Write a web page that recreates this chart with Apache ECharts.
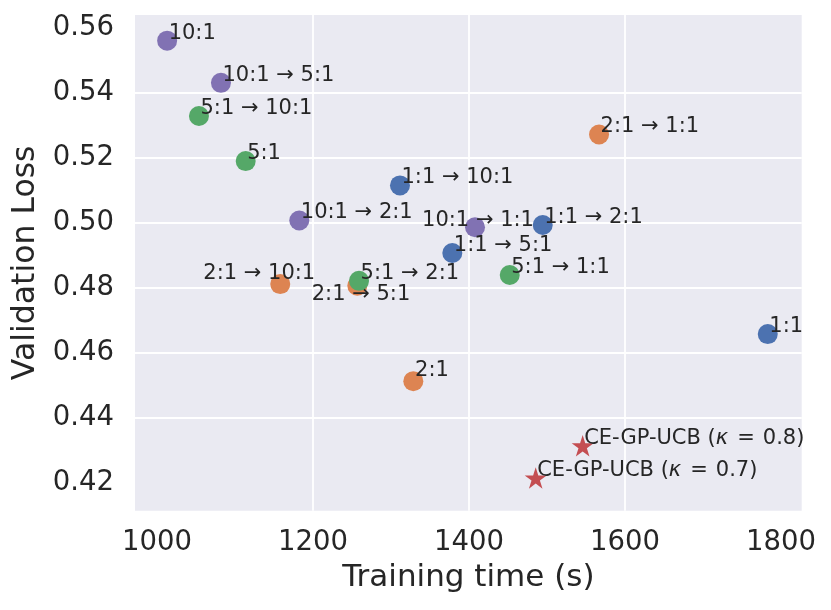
<!DOCTYPE html>
<html>
<head>
<meta charset="utf-8">
<script src="https://cdn.jsdelivr.net/npm/echarts@6/dist/echarts.min.js"></script>
<style>
    body { margin: 0; background: #fff; }
    #scatter_chart { width: 831px; height: 610px; }
</style>
</head>
<body>
<div id="scatter_chart"></div>
<script>
// Schedules starting at 1:1
var names11 = ['1:1', '1:1 → 10:1', '1:1 → 2:1', '1:1 → 5:1'];
var time11 = [1783, 1311.5, 1494.5, 1378.6];
var loss11 = [0.4658, 0.5116, 0.4994, 0.4908];

// Schedules starting at 2:1
var names21 = ['2:1', '2:1 → 1:1', '2:1 → 10:1', '2:1 → 5:1'];
var time21 = [1328.6, 1566.7, 1158, 1256.8];
var loss21 = [0.4513, 0.5273, 0.4812, 0.4807];

// Schedules starting at 5:1
var names51 = ['5:1', '5:1 → 10:1', '5:1 → 1:1', '5:1 → 2:1'];
var time51 = [1113.7, 1053.8, 1452.2, 1259];
var loss51 = [0.5191, 0.5330, 0.4840, 0.4822];

// Schedules starting at 10:1
var names101 = ['10:1', '10:1 → 5:1', '10:1 → 2:1', '10:1 → 1:1'];
var time101 = [1013, 1082, 1182.4, 1407.7];
var loss101 = [0.5562, 0.5432, 0.5008, 0.4987];

// CE-GP-UCB runs
var namesUcb = ['CE-GP-UCB (κ = 0.7)', 'CE-GP-UCB (κ = 0.8)'];
var timeUcb = [1485.5, 1545.7];
var lossUcb = [0.4215, 0.4314];

var xTicks = [1000, 1200, 1400, 1600, 1800];
var yTicks = [0.42, 0.44, 0.46, 0.48, 0.50, 0.52, 0.54, 0.56];

// label placement tweaks (offset of text from the marker centre)
var labelTweaks = {
    '10:1 → 1:1': {align: 'center', offset: [3, -6.5]},
    '2:1 → 10:1': {align: 'center', offset: [-21, -11]},
    '2:1 → 5:1': {align: 'center', offset: [3.7, 8.8]},
    '2:1': {align: 'left', offset: [1.7, -10.5]}
};

var textColor = '#262626';
var font = 'DejaVu Sans';
var labelSize = 21;
var starPath = 'path://M100,0 L122.45,69.1 L195.1,69.1 L136.3,111.8 L158.8,180.9 L100,138.2 L41.2,180.9 L63.7,111.8 L4.9,69.1 L77.55,69.1 Z';

function buildPoints(names, xs, ys) {
    var pts = [];
    for (var i = 0; i < names.length; i++) {
        var tw = labelTweaks[names[i]] || {align: 'left', offset: [1.5, -7.5]};
        pts.push({
            name: names[i],
            value: [xs[i], ys[i]],
            label: {align: tw.align, offset: tw.offset}
        });
    }
    return pts;
}

function makeSeries(names, xs, ys, color, symbol, size) {
    return {
        type: 'scatter',
        symbol: symbol,
        symbolSize: size,
        itemStyle: {color: color, opacity: 1},
        label: {
            show: true,
            position: 'inside',
            verticalAlign: 'middle',
            color: textColor,
            fontFamily: font,
            fontSize: labelSize,
            formatter: function (p) {
                // mathtext-like kappa: italic, wider gaps around "="
                return p.name.replace('κ = ', '{k|κ}{e|=}');
            },
            rich: {
                k: {fontFamily: font, fontSize: labelSize, fontStyle: 'italic', color: textColor},
                e: {fontFamily: font, fontSize: labelSize, color: textColor, padding: [0, 8, 0, 9]}
            }
        },
        emphasis: {disabled: true},
        data: buildPoints(names, xs, ys)
    };
}

var myChart = echarts.init(document.getElementById('scatter_chart'), null, {renderer: 'canvas'});

var option = {
    animation: false,
    backgroundColor: '#ffffff',
    grid: {left: 135, right: 29.3, top: 15, bottom: 99.3, show: true, backgroundColor: '#EAEAF2', borderWidth: 0},
    xAxis: {
        type: 'value',
        min: 971.8,
        max: 1826.5,
        name: 'Training time (s)',
        nameLocation: 'middle',
        nameGap: 52,
        nameTextStyle: {color: textColor, fontFamily: font, fontSize: 31, verticalAlign: 'top'},
        axisLine: {show: false},
        axisTick: {show: false, customValues: xTicks},
        axisLabel: {
            customValues: xTicks, color: textColor, fontFamily: font, fontSize: 27.5, margin: 18,
            formatter: function (v) { return String(v); }
        },
        splitLine: {show: true, showMinLine: false, showMaxLine: false, lineStyle: {color: '#ffffff', width: 1.8}}
    },
    yAxis: {
        type: 'value',
        min: 0.4114,
        max: 0.5641,
        name: 'Validation Loss',
        nameLocation: 'middle',
        nameGap: 92,
        nameRotate: 90,
        nameTextStyle: {color: textColor, fontFamily: font, fontSize: 31.5},
        axisLine: {show: false},
        axisTick: {show: false, customValues: yTicks},
        axisLabel: {
            customValues: yTicks,
            color: textColor, fontFamily: font, fontSize: 27.5, margin: 21,
            formatter: function (v) { return v.toFixed(2); }
        },
        splitLine: {show: true, showMinLine: false, showMaxLine: false, lineStyle: {color: '#ffffff', width: 1.8}}
    },
    series: [
        makeSeries(names11, time11, loss11, '#4C72B0', 'circle', 20),
        makeSeries(names21, time21, loss21, '#DD8452', 'circle', 20),
        makeSeries(names51, time51, loss51, '#55A868', 'circle', 20),
        makeSeries(names101, time101, loss101, '#8172B3', 'circle', 20),
        makeSeries(namesUcb, timeUcb, lossUcb, '#C44E52', starPath, [22, 21.5])
    ]
};
myChart.setOption(option);
</script>
</body>
</html>
